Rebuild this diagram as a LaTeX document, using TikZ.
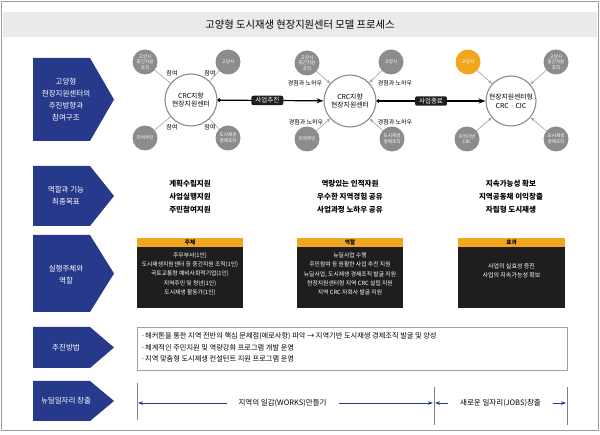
\documentclass[tikz,border=0pt]{standalone}
\usepackage{fontspec}
\setmainfont{Noto Sans CJK KR}
\usetikzlibrary{arrows.meta}
\definecolor{navy}{HTML}{27398A}
\definecolor{orng}{HTML}{F2A51F}
\definecolor{cgray}{HTML}{8C8C8C}
\definecolor{lgray}{HTML}{A0A0A0}
\definecolor{titlebg}{HTML}{EAEAEA}
\definecolor{boxblack}{HTML}{1E1E1E}
\definecolor{framegray}{HTML}{9A9A9A}
\begin{document}
\begin{tikzpicture}[x=1pt,y=-1pt,
  bluetext/.style={text=white, align=center, font=\fontsize{7.5}{12}\selectfont, inner sep=0pt},
  bigc/.style={circle, draw=cgray, line width=1.1pt, fill=white, minimum size=52pt, inner sep=0pt, align=center, font=\fontsize{6.8}{8.5}\selectfont},
  smallc/.style={circle, fill=cgray, minimum size=25pt, inner sep=0pt, align=center, text=white, font=\fontsize{4.6}{5.5}\selectfont},
  lbl/.style={font=\fontsize{6}{7}\selectfont, inner sep=0pt},
  link/.style={draw=lgray, line width=0.6pt},
  linkarr/.style={link, -{Stealth[length=4pt,width=3.2pt]}},
  mainarr/.style={line width=1.2pt, {Circle[length=3.4pt]}-{Stealth[length=7pt,width=5pt]}},
  tag/.style={fill=boxblack, rounded corners=2pt, text=white, font=\fontsize{6.5}{7}\selectfont, inner xsep=4pt, inner ysep=1.8pt},
  goal/.style={align=center, font=\fontsize{7.5}{13}\selectfont\bfseries, inner sep=0pt},
  bodytext/.style={align=center, text=white, font=\fontsize{5.8}{9.4}\selectfont, inner sep=0pt},
  headtext/.style={font=\fontsize{5.6}{6}\selectfont\bfseries, inner sep=0pt},
  methodtext/.style={align=left, anchor=west, font=\fontsize{7.2}{11}\selectfont, inner sep=0pt},
  jobarr/.style={draw=navy, line width=0.8pt, {Stealth[length=5pt,width=3.5pt]}-{Stealth[length=5pt,width=3.5pt]}},
  jobtext/.style={fill=white, font=\fontsize{7.5}{9}\selectfont, inner xsep=12pt, inner ysep=2pt},
  vline/.style={draw=gray, line width=0.5pt}
]
\useasboundingbox (0,0) rectangle (600,435);
\draw[framegray, line width=1pt] (1.5,1.5) rectangle (598.5,431);
\fill[titlebg] (3,12) rectangle (597,37);
\node (title) at (300,24.5) {\fontsize{10.3}{12}\selectfont 고양형 도시재생 현장지원센터 모델 프로세스};

% blue row headers
\fill[navy] (33,58) -- (90,58) -- (114,99.5) -- (90,141) -- (33,141) -- cycle;
\node[bluetext] (r1) at (66,100) {고양형\\현장지원센터의\\추진방향과\\참여구조};
\fill[navy] (33,166) -- (90,166) -- (114,196) -- (90,226) -- (33,226) -- cycle;
\node[bluetext] (r2) at (66,195.5) {역할과 기능\\최종목표};
\fill[navy] (33,235) -- (90,235) -- (114,273.5) -- (90,312) -- (33,312) -- cycle;
\node[bluetext] (r3) at (66,275) {실행주체와\\역할};
\fill[navy] (33,327) -- (90,327) -- (114,347.5) -- (90,368) -- (33,368) -- cycle;
\node[bluetext] (r4) at (66,347.5) {추진방법};
\fill[navy] (33,381) -- (90,381) -- (114,401) -- (90,421) -- (33,421) -- cycle;
\node[bluetext] (r5) at (66,401) {뉴딜일자리 창출};

% group 1
\node[bigc] (b1) at (191,100) {CRC지향\\현장지원센터};
\node[smallc] (a1) at (145,62) {고양시\\중간지원\\조직};
\node[smallc] (a2) at (228,62) {고양시};
\node[smallc] (a3) at (145,138) {지역주민};
\node[smallc] (a4) at (228,138) {도시재생\\경제조직};
\draw[link] (a1) -- (b1);
\draw[link] (a2) -- (b1);
\draw[link] (a3) -- (b1);
\draw[link] (a4) -- (b1);
\node[lbl] (p1) at (172,73) {참여};
\node[lbl] (p2) at (210,73) {참여};
\node[lbl] (p3) at (172,127) {참여};
\node[lbl] (p4) at (210,127) {참여};

% group 2
\node[bigc] (b2) at (350,101) {CRC지향\\현장지원센터};
\node[smallc] (c1) at (307,63) {고양시\\중간지원\\조직};
\node[smallc] (c2) at (391,62) {고양시};
\node[smallc] (c3) at (307,139) {지역주민};
\node[smallc] (c4) at (392,139) {도시재생\\경제조직};
\draw[linkarr] (c1) -- (b2);
\draw[linkarr] (c2) -- (b2);
\draw[linkarr] (c3) -- (b2);
\draw[linkarr] (c4) -- (b2);
\node[lbl] (k1) at (305,83) {경험과 노하우};
\node[lbl] (k2) at (395,83) {경험과 노하우};
\node[lbl] (k3) at (306,122) {경험과 노하우};
\node[lbl] (k4) at (395,122) {경험과 노하우};

% group 3
\node[bigc, minimum size=50pt] (b3) at (511,101) {현장지원센터형\\CRC · CIC};
\node[smallc, fill=orng] (d1) at (468,62) {고양시};
\node[smallc] (d2) at (556,62) {고양시\\중간지원\\조직};
\node[smallc] (d3) at (467,139) {지역기반\\CRC};
\node[smallc] (d4) at (556,139) {도시재생\\경제조직};
\draw[linkarr] (d1) -- (b3);
\draw[linkarr] (d2) -- (b3);
\draw[linkarr] (d3) -- (b3);
\draw[linkarr] (d4) -- (b3);

% main arrows
\draw[mainarr] (b1) -- node[tag, pos=0.47] (t1) {사업추진} (b2);
\draw[mainarr] (b2) -- node[tag, pos=0.5] (t2) {사업종료} (b3);

% row 2 goals
\node[goal] (g1) at (190,197) {계획수립지원\\사업실행지원\\주민참여지원};
\node[goal] (g2) at (350,197) {역량있는 인적자원\\우수한 지역경험 공유\\사업과정 노하우 공유};
\node[goal] (g3) at (511,197) {지속가능성 확보\\지역공동체 이익창출\\자립형 도시재생};

% row 3 boxes
\fill[orng] (137,238) rectangle (243,247);
\fill[boxblack] (137,247) rectangle (243,308);
\node[headtext] (h1) at (190,242.5) {주체};
\node[bodytext] (e1) at (190,274) {주무부서(1인)\\도시재생지원센터 등 중간지원 조직(1인)\\국토교통형 예비사회적기업(1인)\\지역주민 및 청년(1인)\\도시재생 활동가(1인)};
\fill[orng] (297,238) rectangle (403,247);
\fill[boxblack] (297,247) rectangle (403,308);
\node[headtext] (h2) at (350,242.5) {역할};
\node[bodytext] (e2) at (350,274) {뉴딜사업 수행\\주민참여 등 원활한 사업 추진 지원\\뉴딜사업, 도시재생 경제조직 발굴 지원\\현장지원센터형 지역 CRC 설립 지원\\지역 CRC 자회사 발굴 지원};
\fill[orng] (458,238) rectangle (565,247);
\fill[boxblack] (458,247) rectangle (565,308);
\node[headtext] (h3) at (511.5,242.5) {효과};
\node[bodytext, font=\fontsize{6}{8.5}\selectfont] (e3) at (511.5,271) {사업의 실효성 증진\\사업의 지속가능성 확보};

% row 4
\draw[draw=lgray, line width=0.6pt] (137,327) rectangle (567,370);
\node[methodtext] (m1) at (141,336) {·해커톤을 통한 지역 전반의 핵심 문제점(애로사항) 파악 → 지역기반 도시재생 경제조직 발굴 및 양성};
\node[methodtext] (m2) at (141,347.5) {·체계적인 주민지원 및 역량강화 프로그램 개발 운영};
\node[methodtext] (m3) at (141,359) {·지역 맞춤형 도시재생 컨설턴트 지원 프로그램 운영};

% row 5
\coordinate (v1t) at (137,383);
\coordinate (v1b) at (137,420);
\coordinate (v2t) at (434,387);
\coordinate (v2b) at (434,425);
\coordinate (v3t) at (567,387);
\coordinate (v3b) at (567,425);
\draw[vline] (v1t) -- (v1b);
\draw[vline] (v2t) -- (v2b);
\draw[vline] (v3t) -- (v3b);
\coordinate (w1) at (138,403);
\coordinate (w2) at (433,403);
\coordinate (w3) at (435,403);
\coordinate (w4) at (566,403);
\draw[jobarr] (w1) -- node[jobtext, pos=0.49] (j1) {지역의 일감(WORKS)만들기} (w2);
\draw[jobarr] (w3) -- node[jobtext, pos=0.5] (j2) {새로운 일자리(JOBS)창출} (w4);
\end{tikzpicture}
\end{document}
